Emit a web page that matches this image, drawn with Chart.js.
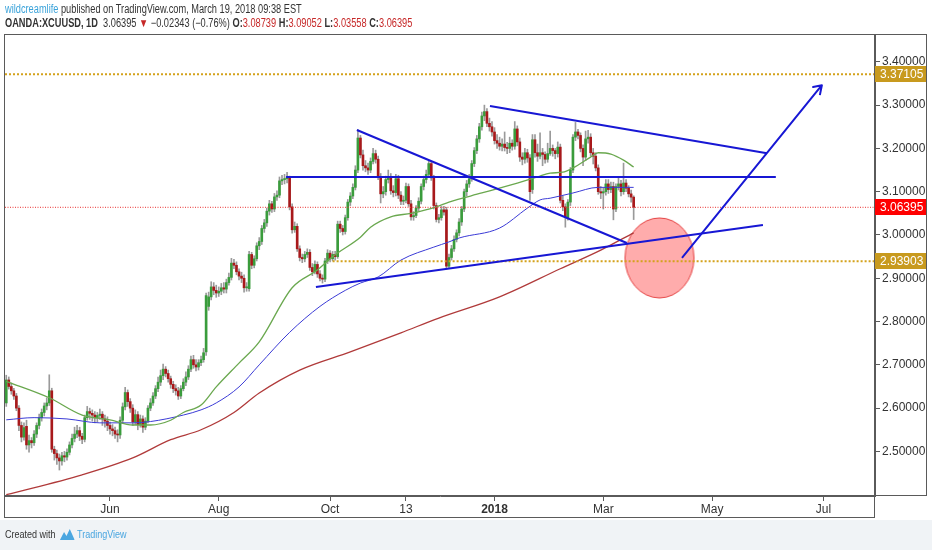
<!DOCTYPE html>
<html>
<head>
<meta charset="utf-8">
<script src="https://cdn.jsdelivr.net/npm/chart.js@4.4.1/dist/chart.umd.min.js"></script>
<style>
  html, body { margin: 0; padding: 0; background: #fff; }
  #wrap { position: relative; width: 932px; height: 550px; overflow: hidden; background: #fff; }
  #foot { position: absolute; left: 0; top: 520px; width: 932px; height: 30px; background: #f0f3f6; }
  canvas { position: absolute; left: 0; top: 0; }
  .hdr { position: absolute; left: 5px; font-family: "Liberation Sans", Arial, sans-serif; font-size: 12px; color: #333; white-space: nowrap; transform: scaleX(0.77); transform-origin: 0 0; }
  #h1 { top: 2px; }
  #h2 { top: 16px; }
  .user { color: #3ba3da; }
  .red { color: #c62828; }
  #made { position: absolute; left: 5px; top: 528px; font-family: "Liberation Sans", Arial, sans-serif; font-size: 11px; color: #333; white-space: nowrap; transform: scaleX(0.82); transform-origin: 0 0; }
  #made svg { vertical-align: -2px; margin: 0 3px 0 5px; }
  #made .tv { color: #4aa6e0; }
</style>
</head>
<body>
<div id="wrap">
  <div id="foot"></div>
  <canvas id="chart" width="932" height="550"></canvas>
  <div class="hdr" id="h1"><span class="user">wildcreamlife</span> published on TradingView.com, March 19, 2018 09:38 EST</div>
  <div class="hdr" id="h2"><b>OANDA:XCUUSD, 1D</b>&nbsp; 3.06395 <span class="red">&#9660;</span> &minus;0.02343 (&minus;0.76%) <b>O:</b><span class="red">3.08739</span> <b>H:</b><span class="red">3.09052</span> <b>L:</b><span class="red">3.03558</span> <b>C:</b><span class="red">3.06395</span></div>
  <div id="made">Created with<svg width="18" height="12" viewBox="0 0 18 12"><polygon points="0,12 5,4 8,8 12,1 18,12" fill="#4aa6e0"/></svg><span class="tv">TradingView</span></div>
</div>
<script>
// daily candles, index 0 = 1 Jun 2017 (weekdays)
const firstIndex = -41;

const opens = [
  2.612, 2.665, 2.650, 2.640, 2.628, 2.600, 2.560, 2.533, 2.558, 2.515,
  2.525, 2.520, 2.540, 2.560, 2.578, 2.590, 2.605, 2.612, 2.640, 2.505,
  2.495, 2.485, 2.478, 2.490, 2.487, 2.498, 2.515, 2.530, 2.540, 2.548,
  2.535, 2.528, 2.578, 2.592, 2.588, 2.584, 2.578, 2.583, 2.586, 2.575,
  2.570, 2.560, 2.552, 2.548, 2.540, 2.538, 2.572, 2.603, 2.636, 2.615,
  2.600, 2.568, 2.585, 2.562, 2.575, 2.556, 2.570, 2.600, 2.612, 2.628,
  2.645, 2.660, 2.675, 2.690, 2.680, 2.668, 2.655, 2.645, 2.640, 2.628,
  2.645, 2.660, 2.672, 2.690, 2.712, 2.700, 2.695, 2.705, 2.712, 2.730,
  2.835, 2.857, 2.880, 2.872, 2.866, 2.870, 2.878, 2.875, 2.890, 2.902,
  2.935, 2.930, 2.915, 2.905, 2.900, 2.878, 2.876, 2.955, 2.930, 2.945,
  2.975, 2.985, 3.015, 3.028, 3.055, 3.072, 3.060, 3.088, 3.092, 3.125,
  3.128, 3.130, 3.132, 3.065, 3.012, 3.020, 2.968, 2.948, 2.945, 2.955,
  2.960, 2.925, 2.915, 2.932, 2.910, 2.900, 2.898, 2.940, 2.958, 2.945,
  2.955, 2.950, 3.025, 3.015, 3.008, 3.040, 3.076, 3.090, 3.110, 3.150,
  3.224, 3.185, 3.160, 3.155, 3.150, 3.170, 3.188, 3.175, 3.135, 3.095,
  3.100, 3.128, 3.135, 3.102, 3.098, 3.130, 3.092, 3.078, 3.080, 3.112,
  3.072, 3.042, 3.045, 3.062, 3.078, 3.112, 3.128, 3.140, 3.165, 3.132,
  3.068, 3.036, 3.040, 3.058, 3.058, 2.928, 2.948, 2.968, 2.990, 3.005,
  3.030, 3.060, 3.100, 3.118, 3.130, 3.165, 3.195, 3.222, 3.250, 3.275,
  3.285, 3.258, 3.250, 3.238, 3.218, 3.212, 3.205, 3.210, 3.202, 3.200,
  3.212, 3.205, 3.245, 3.215, 3.180, 3.175, 3.190, 3.178, 3.105, 3.220,
  3.190, 3.182, 3.190, 3.186, 3.175, 3.188, 3.200, 3.195, 3.188, 3.203,
  3.080, 3.065, 3.040, 3.076, 3.150, 3.226, 3.238, 3.230, 3.200, 3.180,
  3.222, 3.226, 3.190, 3.182, 3.155, 3.100, 3.097, 3.100, 3.118, 3.105,
  3.112, 3.060, 3.112, 3.118, 3.100, 3.120, 3.108, 3.095, 3.08739
];
const highs = [
  2.676, 2.672, 2.658, 2.646, 2.634, 2.606, 2.568, 2.566, 2.572, 2.538,
  2.532, 2.548, 2.566, 2.586, 2.598, 2.612, 2.624, 2.677, 2.646, 2.512,
  2.503, 2.494, 2.498, 2.500, 2.506, 2.522, 2.540, 2.556, 2.560, 2.556,
  2.542, 2.584, 2.604, 2.600, 2.596, 2.592, 2.590, 2.598, 2.592, 2.584,
  2.580, 2.568, 2.562, 2.556, 2.550, 2.580, 2.612, 2.648, 2.642, 2.622,
  2.608, 2.596, 2.592, 2.584, 2.582, 2.578, 2.606, 2.622, 2.636, 2.652,
  2.672, 2.688, 2.702, 2.696, 2.688, 2.674, 2.662, 2.654, 2.648, 2.652,
  2.668, 2.684, 2.698, 2.720, 2.722, 2.712, 2.712, 2.720, 2.738, 2.866,
  2.868, 2.892, 2.890, 2.884, 2.880, 2.888, 2.890, 2.898, 2.912, 2.946,
  2.944, 2.938, 2.922, 2.914, 2.908, 2.890, 2.962, 2.960, 2.952, 2.982,
  2.994, 3.022, 3.036, 3.062, 3.080, 3.078, 3.096, 3.102, 3.134, 3.138,
  3.140, 3.145, 3.136, 3.072, 3.030, 3.026, 2.975, 2.956, 2.962, 2.968,
  2.966, 2.934, 2.940, 2.938, 2.918, 2.908, 2.946, 2.966, 2.964, 2.962,
  2.962, 3.032, 3.032, 3.022, 3.046, 3.082, 3.098, 3.118, 3.160, 3.243,
  3.230, 3.196, 3.172, 3.166, 3.178, 3.200, 3.196, 3.182, 3.142, 3.112,
  3.136, 3.150, 3.142, 3.114, 3.140, 3.138, 3.100, 3.090, 3.120, 3.118,
  3.080, 3.054, 3.068, 3.086, 3.118, 3.136, 3.150, 3.172, 3.170, 3.138,
  3.074, 3.048, 3.066, 3.066, 3.064, 2.956, 2.976, 2.998, 3.012, 3.038,
  3.066, 3.106, 3.126, 3.140, 3.172, 3.202, 3.230, 3.258, 3.284, 3.300,
  3.292, 3.270, 3.262, 3.248, 3.232, 3.226, 3.222, 3.238, 3.214, 3.226,
  3.220, 3.262, 3.252, 3.224, 3.190, 3.200, 3.198, 3.186, 3.232, 3.232,
  3.210, 3.236, 3.200, 3.192, 3.212, 3.240, 3.208, 3.200, 3.215, 3.210,
  3.090, 3.072, 3.082, 3.156, 3.232, 3.260, 3.244, 3.236, 3.208, 3.240,
  3.242, 3.234, 3.200, 3.190, 3.162, 3.112, 3.108, 3.128, 3.128, 3.122,
  3.122, 3.118, 3.132, 3.126, 3.166, 3.128, 3.114, 3.104, 3.09052
];
const lows = [
  2.604, 2.644, 2.632, 2.620, 2.594, 2.548, 2.522, 2.526, 2.505, 2.498,
  2.508, 2.514, 2.532, 2.552, 2.570, 2.582, 2.596, 2.606, 2.498, 2.480,
  2.470, 2.457, 2.468, 2.476, 2.480, 2.492, 2.508, 2.522, 2.532, 2.525,
  2.518, 2.522, 2.572, 2.574, 2.570, 2.566, 2.568, 2.574, 2.560, 2.556,
  2.548, 2.540, 2.536, 2.530, 2.522, 2.530, 2.566, 2.596, 2.604, 2.590,
  2.560, 2.562, 2.550, 2.556, 2.544, 2.550, 2.566, 2.594, 2.606, 2.622,
  2.638, 2.652, 2.666, 2.672, 2.660, 2.646, 2.636, 2.630, 2.620, 2.622,
  2.640, 2.652, 2.666, 2.684, 2.692, 2.686, 2.688, 2.698, 2.706, 2.722,
  2.826, 2.850, 2.862, 2.856, 2.858, 2.862, 2.866, 2.866, 2.884, 2.896,
  2.922, 2.908, 2.896, 2.890, 2.868, 2.870, 2.870, 2.922, 2.924, 2.940,
  2.966, 2.978, 3.006, 3.020, 3.046, 3.052, 3.054, 3.080, 3.086, 3.116,
  3.118, 3.120, 3.058, 3.004, 3.006, 2.962, 2.940, 2.936, 2.938, 2.948,
  2.918, 2.906, 2.910, 2.902, 2.894, 2.889, 2.892, 2.934, 2.938, 2.940,
  2.942, 2.946, 3.006, 3.000, 3.002, 3.034, 3.068, 3.084, 3.104, 3.144,
  3.178, 3.150, 3.146, 3.140, 3.144, 3.164, 3.166, 3.128, 3.074, 3.086,
  3.092, 3.120, 3.094, 3.088, 3.090, 3.084, 3.070, 3.070, 3.074, 3.066,
  3.034, 3.034, 3.040, 3.056, 3.072, 3.104, 3.120, 3.134, 3.126, 3.060,
  3.030, 3.028, 3.034, 3.046, 2.921, 2.922, 2.942, 2.962, 2.984, 2.998,
  3.022, 3.054, 3.090, 3.110, 3.124, 3.158, 3.188, 3.214, 3.242, 3.264,
  3.250, 3.240, 3.228, 3.210, 3.200, 3.196, 3.194, 3.194, 3.188, 3.190,
  3.196, 3.198, 3.206, 3.170, 3.162, 3.166, 3.168, 3.080, 3.096, 3.180,
  3.170, 3.176, 3.160, 3.166, 3.168, 3.184, 3.182, 3.176, 3.180, 3.074,
  3.056, 3.018, 3.034, 3.068, 3.144, 3.218, 3.222, 3.192, 3.160, 3.172,
  3.212, 3.182, 3.164, 3.148, 3.094, 3.084, 3.060, 3.092, 3.096, 3.098,
  3.035, 3.054, 3.104, 3.090, 3.094, 3.100, 3.088, 3.076, 3.03558
];
const closes = [
  2.665, 2.650, 2.640, 2.628, 2.600, 2.560, 2.533, 2.555, 2.515, 2.525,
  2.520, 2.540, 2.560, 2.578, 2.590, 2.605, 2.612, 2.640, 2.505, 2.495,
  2.485, 2.478, 2.490, 2.487, 2.498, 2.515, 2.530, 2.540, 2.548, 2.535,
  2.528, 2.578, 2.592, 2.588, 2.584, 2.578, 2.583, 2.586, 2.575, 2.570,
  2.560, 2.552, 2.548, 2.540, 2.538, 2.572, 2.603, 2.636, 2.615, 2.600,
  2.568, 2.585, 2.562, 2.575, 2.556, 2.570, 2.600, 2.612, 2.628, 2.645,
  2.660, 2.675, 2.690, 2.680, 2.668, 2.655, 2.645, 2.640, 2.628, 2.645,
  2.660, 2.672, 2.690, 2.712, 2.700, 2.695, 2.705, 2.712, 2.728, 2.860,
  2.857, 2.880, 2.872, 2.866, 2.870, 2.878, 2.875, 2.890, 2.902, 2.935,
  2.930, 2.915, 2.905, 2.900, 2.878, 2.880, 2.955, 2.930, 2.945, 2.975,
  2.985, 3.015, 3.028, 3.055, 3.072, 3.060, 3.088, 3.092, 3.125, 3.128,
  3.130, 3.132, 3.065, 3.012, 3.020, 2.968, 2.948, 2.945, 2.955, 2.960,
  2.925, 2.915, 2.932, 2.910, 2.900, 2.898, 2.940, 2.958, 2.945, 2.955,
  2.950, 3.025, 3.015, 3.008, 3.040, 3.076, 3.090, 3.110, 3.150, 3.224,
  3.185, 3.160, 3.155, 3.150, 3.170, 3.188, 3.175, 3.135, 3.095, 3.100,
  3.128, 3.135, 3.102, 3.098, 3.130, 3.092, 3.078, 3.080, 3.112, 3.072,
  3.042, 3.045, 3.062, 3.078, 3.112, 3.128, 3.140, 3.165, 3.132, 3.068,
  3.036, 3.040, 3.058, 3.053, 2.928, 2.948, 2.968, 2.990, 3.005, 3.030,
  3.060, 3.100, 3.118, 3.130, 3.165, 3.195, 3.222, 3.250, 3.275, 3.285,
  3.258, 3.250, 3.238, 3.218, 3.212, 3.205, 3.210, 3.202, 3.200, 3.212,
  3.205, 3.245, 3.215, 3.180, 3.175, 3.190, 3.178, 3.100, 3.220, 3.190,
  3.182, 3.190, 3.186, 3.175, 3.188, 3.200, 3.195, 3.188, 3.203, 3.080,
  3.065, 3.040, 3.076, 3.150, 3.226, 3.238, 3.230, 3.200, 3.180, 3.222,
  3.226, 3.190, 3.182, 3.155, 3.100, 3.097, 3.100, 3.118, 3.105, 3.112,
  3.060, 3.112, 3.118, 3.100, 3.120, 3.108, 3.095, 3.08738, 3.06395
];

// moving averages (bar index, price)
const greenIdx = [-41, -24, -11, 0, 9, 16, 24, 29, 36, 42, 51, 59, 72, 82, 88, 99, 103, 111, 119, 129, 134, 147, 161, 169, 174, 179, 183, 190, 193, 198, 203, 207];
const greenVals = [2.662, 2.624, 2.584, 2.573, 2.561, 2.561, 2.572, 2.590, 2.607, 2.649, 2.704, 2.753, 2.878, 2.919, 2.950, 2.995, 3.018, 3.042, 3.050, 3.065, 3.076, 3.097, 3.120, 3.134, 3.143, 3.145, 3.155, 3.180, 3.190, 3.187, 3.173, 3.157];
const blueIdx = [-41, -30, -17, -4, 9, 16, 29, 36, 42, 51, 59, 71, 83, 93, 99, 106, 115, 128, 134, 138, 154, 165, 170, 174, 183, 193, 199, 207];
const blueVals = [2.573, 2.578, 2.575, 2.566, 2.566, 2.569, 2.584, 2.596, 2.612, 2.649, 2.700, 2.775, 2.835, 2.872, 2.889, 2.903, 2.942, 2.972, 2.984, 2.993, 3.016, 3.062, 3.081, 3.085, 3.097, 3.110, 3.110, 3.110];
const redIdx = [-41, -11, 9, 24, 36, 49, 59, 75, 95, 115, 130, 154, 178, 194, 207];
const redVals = [2.400, 2.446, 2.485, 2.527, 2.550, 2.590, 2.635, 2.688, 2.730, 2.774, 2.808, 2.857, 2.922, 2.965, 3.005];

// axis ticks
const xTickIdx = [0, 43, 87, 117, 152, 195, 238, 282];
const xTickLabels = ["Jun", "Aug", "Oct", "13", "2018", "Mar", "May", "Jul"];
const yTicks = [2.5, 2.6, 2.7, 2.8, 2.9, 3.0, 3.1, 3.2, 3.3, 3.4];

// horizontal price levels
const topLevel = 3.37105;
const lastPrice = 3.06395;
const lowLevel = 2.93903;

// drawn trend lines [x1, y1, x2, y2]
const trendLines = [
  [97.6, 3.2425, 204.3, 2.9815],
  [81.4, 2.880, 258.1, 3.023],
  [69.6, 3.134, 263.2, 3.134],
  [150.2, 3.298, 259.7, 3.189]
];
const arrowPts = [[226.1, 2.947], [281.4, 3.346], [277.9, 3.342], [281.4, 3.346], [280.6, 3.323]];
const circleAt = [217.2, 2.947];

const xMin = -41.5, xMax = 302.4;
const FONT = "'Liberation Sans', Arial, sans-serif";
const GREEN = "#3a9c3c";
const RED = "#a8191b";

const bodies = closes.map((c, k) => ({ x: firstIndex + k, y: [opens[k], c] }));
const wicks = closes.map((c, k) => ({ x: firstIndex + k, y: [lows[k], highs[k]] }));
const bodyColors = closes.map((c, k) => (c >= opens[k] ? GREEN : RED));

function pts(idx, vals) {
  return idx.map((v, k) => ({ x: v, y: vals[k] }));
}

// semi transparent ellipse used as point image
const ell = document.createElement("canvas");
ell.width = 72;
ell.height = 82;
const ec = ell.getContext("2d");
ec.beginPath();
ec.ellipse(36, 41, 34.5, 40, 0, 0, Math.PI * 2);
ec.fillStyle = "rgba(255, 90, 90, 0.5)";
ec.fill();
ec.strokeStyle = "rgba(225, 50, 50, 0.9)";
ec.lineWidth = 1;
ec.stroke();

const datasets = [];
trendLines.forEach((t) => {
  datasets.push({
    type: "line",
    data: [{ x: t[0], y: t[1] }, { x: t[2], y: t[3] }],
    borderColor: "#1717d4",
    borderWidth: 2,
    pointRadius: 0,
    order: 0
  });
});
datasets.push({
  type: "line",
  data: arrowPts.map((p) => ({ x: p[0], y: p[1] })),
  borderColor: "#1717d4",
  borderWidth: 2,
  pointRadius: 0,
  borderJoinStyle: "round",
  order: 0
});
datasets.push({
  type: "line",
  data: [{ x: xMin, y: topLevel }, { x: xMax, y: topLevel }],
  borderColor: "#d4a21c",
  borderWidth: 2,
  borderDash: [2, 2],
  pointRadius: 0,
  order: 1
});
datasets.push({
  type: "line",
  data: [{ x: 88, y: lowLevel }, { x: xMax, y: lowLevel }],
  borderColor: "#d4a21c",
  borderWidth: 2,
  borderDash: [2, 2],
  pointRadius: 0,
  order: 1
});
datasets.push({
  type: "line",
  data: [{ x: xMin, y: lastPrice }, { x: xMax, y: lastPrice }],
  borderColor: "#ea3030",
  borderWidth: 1,
  borderDash: [1, 1.5],
  pointRadius: 0,
  order: 1
});
datasets.push({
  type: "line",
  data: pts(greenIdx, greenVals),
  borderColor: "#6aa84f",
  borderWidth: 1.3,
  pointRadius: 0,
  cubicInterpolationMode: "monotone",
  order: 2
});
datasets.push({
  type: "line",
  data: pts(blueIdx, blueVals),
  borderColor: "#3b3bd6",
  borderWidth: 1,
  pointRadius: 0,
  cubicInterpolationMode: "monotone",
  order: 2
});
datasets.push({
  type: "line",
  data: pts(redIdx, redVals),
  borderColor: "#b03a3a",
  borderWidth: 1.3,
  pointRadius: 0,
  cubicInterpolationMode: "monotone",
  order: 2
});
datasets.push({
  type: "bar",
  data: bodies,
  backgroundColor: bodyColors,
  borderWidth: 0,
  barThickness: 2,
  minBarLength: 1,
  grouped: false,
  order: 3
});
datasets.push({
  type: "bar",
  data: wicks,
  backgroundColor: "#9a9a9a",
  borderWidth: 0,
  barThickness: 1,
  grouped: false,
  order: 4
});
datasets.push({
  type: "line",
  data: [{ x: circleAt[0], y: circleAt[1] }],
  showLine: false,
  pointStyle: ell,
  pointRadius: 1,
  order: 5
});

// frame boxes round plot and axes
const framePlugin = {
  id: "frame",
  afterDraw(chart) {
    const c = chart.ctx;
    const a = chart.chartArea;
    const yr = chart.scales.y.right;
    const xb = chart.scales.x.bottom;
    c.save();
    c.strokeStyle = "#5a5a5a";
    c.lineWidth = 1;
    c.strokeRect(a.left - 0.5, a.top - 0.5, a.right - a.left, a.bottom - a.top);
    c.strokeRect(a.left - 0.5, a.bottom - 0.5, a.right - a.left, xb - a.bottom);
    c.strokeRect(a.right - 0.5, a.top - 0.5, yr - a.right, a.bottom - a.top);
    c.restore();
  }
};

// coloured price tags on the right axis
const tagPlugin = {
  id: "tags",
  afterDraw(chart) {
    const c = chart.ctx;
    const y = chart.scales.y;
    const a = chart.chartArea;
    const tags = [[topLevel, "#c89a1e"], [lastPrice, "#ff0000"], [lowLevel, "#c89a1e"]];
    c.save();
    c.font = "12px " + FONT;
    c.textBaseline = "middle";
    tags.forEach((t) => {
      const py = y.getPixelForValue(t[0]);
      c.fillStyle = t[1];
      c.fillRect(a.right, Math.round(py) - 8, y.right - a.right - 1, 16);
      c.fillStyle = "#fff";
      c.fillText(t[0].toFixed(5), a.right + 5, py + 0.5);
    });
    c.restore();
  }
};

new Chart(document.getElementById("chart"), {
  type: "bar",
  data: { datasets: datasets },
  options: {
    responsive: false,
    animation: false,
    layout: { autoPadding: false, padding: { left: 5, right: 5, top: 35, bottom: 32 } },
    plugins: { legend: { display: false }, tooltip: { enabled: false } },
    scales: {
      x: {
        type: "linear",
        min: xMin,
        max: xMax,
        offset: false,
        grid: { offset: false, drawOnChartArea: false, tickLength: 5, color: "#5a5a5a" },
        border: { color: "#5a5a5a" },
        afterBuildTicks: (s) => { s.ticks = xTickIdx.map((v) => ({ value: v })); },
        afterFit: (s) => { s.height = 22; s.paddingLeft = 0; s.paddingRight = 0; },
        ticks: {
          autoSkip: false,
          maxRotation: 0,
          padding: 1,
          color: "#333",
          font: (ctx) => ({ family: FONT, size: 12, weight: ctx.tick && ctx.tick.value === 152 ? "bold" : "normal" }),
          callback: (v) => xTickLabels[xTickIdx.indexOf(v)]
        }
      },
      y: {
        position: "right",
        min: 2.397,
        max: 3.462,
        grid: { drawOnChartArea: false, tickLength: 5, color: "#5a5a5a" },
        border: { color: "#5a5a5a" },
        afterBuildTicks: (s) => { s.ticks = yTicks.map((v) => ({ value: v })); },
        afterFit: (s) => { s.width = 52; s.paddingTop = 0; s.paddingBottom = 0; },
        ticks: {
          padding: 2,
          color: "#333",
          font: { family: FONT, size: 12 },
          callback: (v) => Number(v).toFixed(5)
        }
      }
    }
  },
  plugins: [framePlugin, tagPlugin]
});
</script>
</body>
</html>
